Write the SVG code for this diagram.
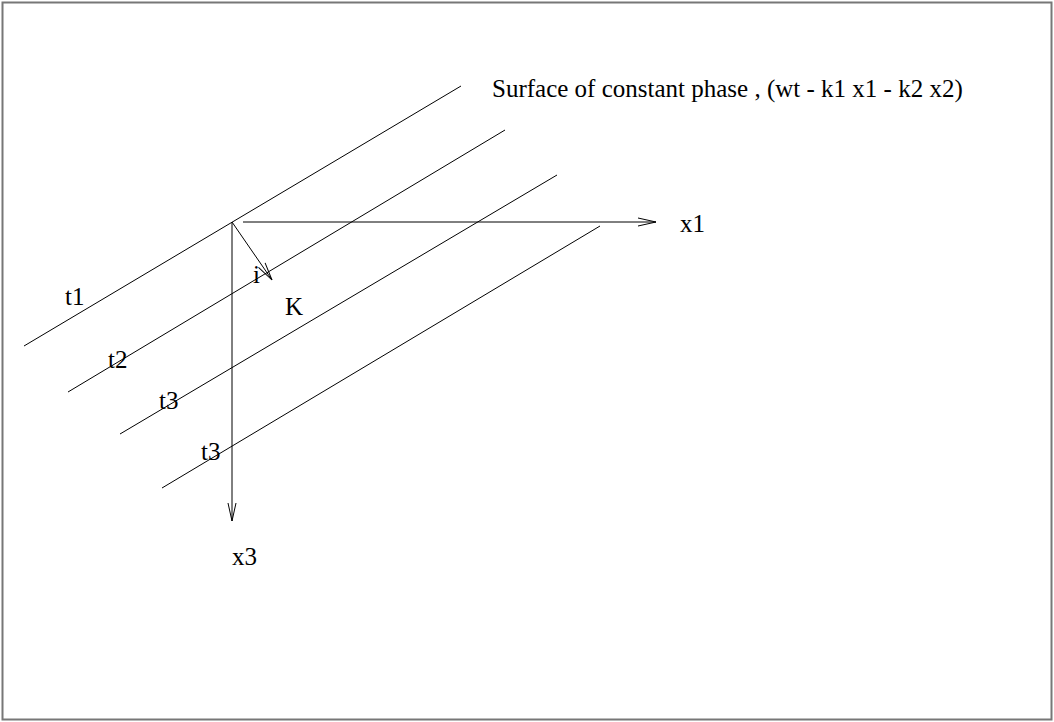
<svg xmlns="http://www.w3.org/2000/svg" width="1054" height="722" viewBox="0 0 1054 722">
<style>
.ln{stroke:#000;stroke-width:1;fill:none}
.t{font-family:"Liberation Serif","Times New Roman",serif;font-size:25px;fill:#000}
</style>
<defs>
<marker id="ah" markerUnits="userSpaceOnUse" markerWidth="24" markerHeight="12" refX="19" refY="5" orient="auto" viewBox="0 0 24 12">
<path d="M1,1 L19,5 L1,9" fill="none" stroke="#000" stroke-width="1"/>
</marker>
</defs>
<rect x="2.5" y="2.5" width="1049" height="717" fill="#fff" stroke="#777" stroke-width="2"/>
<g id="connectors">
<line class="ln" x1="24" y1="346" x2="461" y2="86"/>
<line class="ln" x1="68" y1="392" x2="505" y2="130"/>
<line class="ln" x1="120" y1="434" x2="557" y2="175"/>
<line class="ln" x1="162" y1="488" x2="600" y2="226"/>
<line class="ln" x1="243" y1="222" x2="656" y2="222" marker-end="url(#ah)"/>
<line class="ln" x1="232" y1="222" x2="232" y2="521" marker-end="url(#ah)"/>
<line class="ln" x1="232" y1="222" x2="272" y2="280" marker-end="url(#ah)"/>
</g>
<g id="title"><text class="t" x="492" y="97">Surface of constant phase , (wt - k1 x1 - k2 x2)</text></g>
<g id="x1"><text class="t" x="680" y="232">x1</text></g>
<g id="x3"><text class="t" x="232" y="565">x3</text></g>
<g id="i"><text class="t" x="253" y="283">i</text></g>
<g id="K"><text class="t" x="285" y="315">K</text></g>
<g id="t1"><text class="t" x="65" y="305">t1</text></g>
<g id="t2"><text class="t" x="108" y="368">t2</text></g>
<g id="t3a"><text class="t" x="159" y="409">t3</text></g>
<g id="t3b"><text class="t" x="201" y="460">t3</text></g>
</svg>
